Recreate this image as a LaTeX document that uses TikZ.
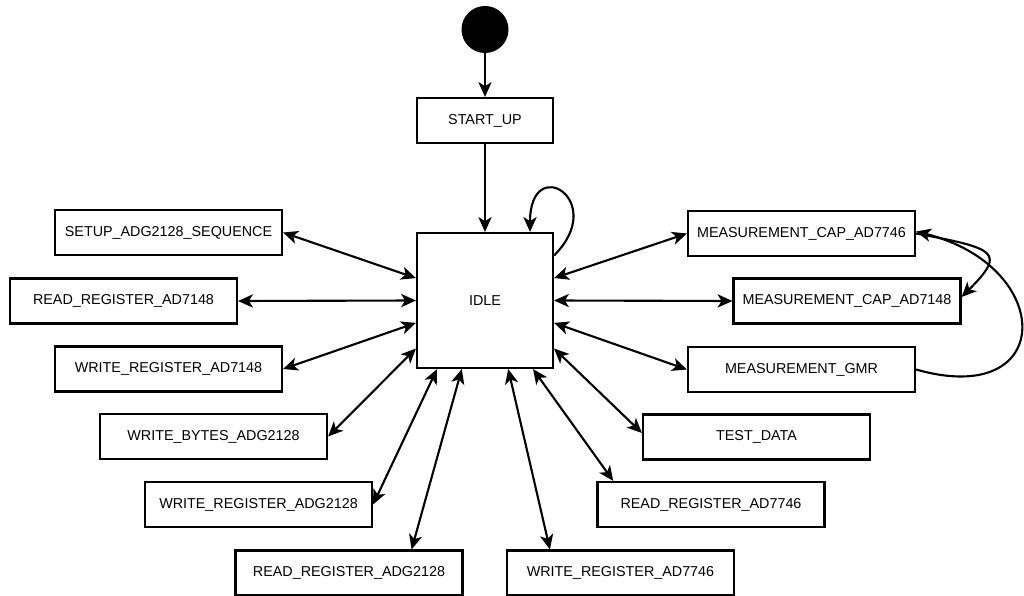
\documentclass[tikz,border=0pt]{standalone}
\usepackage{fontspec}
\setmainfont{Liberation Sans}
\usetikzlibrary{arrows.meta}

\tikzset{
  statebox/.style={draw, line width=1.5pt, inner sep=0pt, minimum width=5.675cm, minimum height=1.125cm,
    font=\fontsize{10.2}{12}\selectfont},
  link/.style={line width=1.5pt, {Stealth[length=0.37cm,width=0.33cm,inset=0.1cm]}-{Stealth[length=0.37cm,width=0.33cm,inset=0.1cm]}},
  go/.style={line width=1.5pt, -{Stealth[length=0.37cm,width=0.33cm,inset=0.1cm]}}
}

\begin{document}
\begin{tikzpicture}[x=0.025cm, y=-0.025cm]
\useasboundingbox (0,0) rectangle (1024,596);

\node[circle, fill=black, minimum size=1.175cm, inner sep=0pt] (init) at (485,29.5) {};
\node[statebox, minimum width=3.4cm] (startup) at (485,120.5) {START\_UP};
\node[statebox, minimum width=3.4cm, minimum height=3.375cm] (idle) at (485,300.5) {IDLE};

% left side
\node[statebox] (setup) at (168.5,232.5) {SETUP\_ADG2128\_SEQUENCE};
\node[statebox] (rd7148) at (123.5,301) {READ\_REGISTER\_AD7148};
\node[statebox] (wr7148) at (168.5,369) {WRITE\_REGISTER\_AD7148};
\node[statebox] (wrbytes) at (213.5,436.5) {WRITE\_BYTES\_ADG2128};
\node[statebox] (wradg) at (258.5,504.5) {WRITE\_REGISTER\_ADG2128};
\node[statebox] (rdadg) at (349,573) {READ\_REGISTER\_ADG2128};

% right side
\node[statebox] (wr7746) at (620.5,573) {WRITE\_REGISTER\_AD7746};
\node[statebox] (rd7746) at (711,504.5) {READ\_REGISTER\_AD7746};
\node[statebox] (test) at (756.5,437) {TEST\_DATA};
\node[statebox] (cap7746) at (801.5,233.5) {MEASUREMENT\_CAP\_AD7746};
\node[statebox] (cap7148) at (847,301) {MEASUREMENT\_CAP\_AD7148};
\node[statebox] (gmr) at (801.5,369.5) {MEASUREMENT\_GMR};

\draw[go] (init) -- (startup);
\draw[go] (startup) -- (idle);
\draw[go] ([yshift=1.125cm]idle.east) .. controls +(55,-55) and +(0,-80) .. ([xshift=1.125cm]idle.north);

\draw[link] (setup.east) -- ([yshift=0.56cm]idle.west);
\draw[link] (rd7148.east) -- (idle.west);
\draw[link] (wr7148.east) -- ([yshift=-0.56cm]idle.west);
\draw[link] (wrbytes.east) -- ([yshift=-1.2cm]idle.west);
\draw[link] (wradg.east) -- ([xshift=-1.2cm]idle.south);
\draw[link] ([xshift=-1.3cm]rdadg.north east) -- ([xshift=-0.58cm]idle.south);
\draw[link] ([xshift=1.1cm]wr7746.north west) -- ([xshift=0.58cm]idle.south);
\draw[link] ([xshift=0.42cm]rd7746.north west) -- ([xshift=1.2cm]idle.south);
\draw[link] ([yshift=0.1cm]test.west) -- ([yshift=-1.2cm]idle.east);
\draw[link] (gmr.west) -- ([yshift=-0.56cm]idle.east);
\draw[link] (cap7148.west) -- (idle.east);
\draw[link] (cap7746.west) -- ([yshift=0.56cm]idle.east);

\draw[go] (cap7746.east) .. controls +(80,15) and +(45,-45) .. ([yshift=0.1cm]cap7148.east);
\draw[go] (gmr.east) .. controls +(140,40) and +(140,35) .. ([yshift=0.05cm]cap7746.east);
\end{tikzpicture}
\end{document}
